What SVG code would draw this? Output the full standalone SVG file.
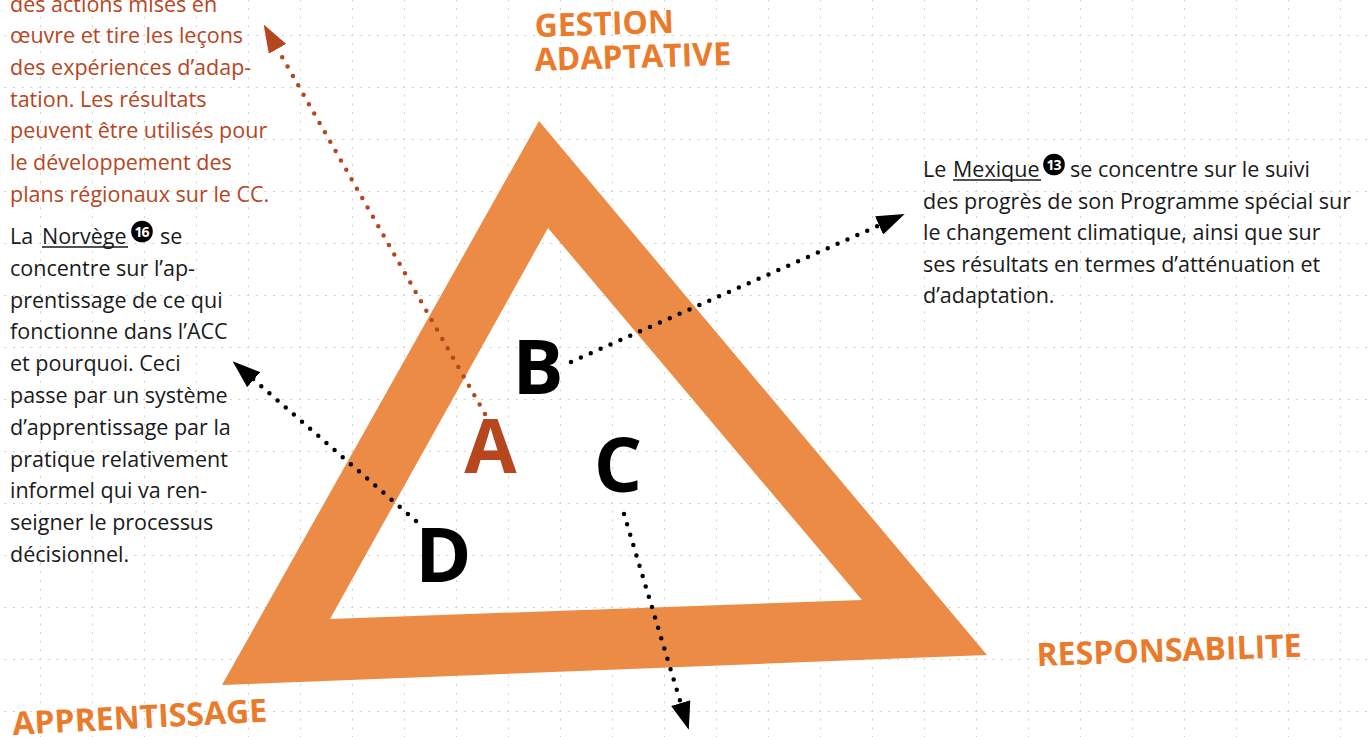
<svg xmlns="http://www.w3.org/2000/svg" width="1370" height="737" viewBox="0 0 1370 737">
<style>
.body{font-family:"Open Sans","Noto Sans",sans-serif;font-size:21.5px;fill:#1a1a1a}
.red{fill:#b6461e}
.title{font-family:"Open Sans","Noto Sans",sans-serif;font-weight:700;font-size:32px;fill:#e97b2b}
.big{font-family:"Open Sans","Noto Sans",sans-serif;font-weight:700;font-size:76px;text-anchor:middle}
.badge-num{font-family:"Open Sans","Noto Sans",sans-serif;font-weight:700;font-size:14px;fill:#fff;text-anchor:middle;letter-spacing:-1px}
.dots{fill:none;stroke-width:4.5;stroke-linecap:round;stroke-dasharray:0 10.8}
.ul{stroke:#1a1a1a;stroke-width:1.4}
</style>
<defs>
<pattern id="grid" patternUnits="userSpaceOnUse" x="40" y="35" width="52" height="52">
<g fill="#cfcfcf">
<rect x="-1" y="-1" width="2" height="2"/><rect x="7.67" y="-1" width="2" height="2"/><rect x="16.33" y="-1" width="2" height="2"/><rect x="25" y="-1" width="2" height="2"/><rect x="33.67" y="-1" width="2" height="2"/><rect x="42.33" y="-1" width="2" height="2"/><rect x="51" y="-1" width="2" height="2"/>
<rect x="-1" y="7.67" width="2" height="2"/><rect x="-1" y="16.33" width="2" height="2"/><rect x="-1" y="25" width="2" height="2"/><rect x="-1" y="33.67" width="2" height="2"/><rect x="-1" y="42.33" width="2" height="2"/><rect x="-1" y="51" width="2" height="2"/>
</g>
</pattern>
<marker id="ah-black" markerUnits="userSpaceOnUse" viewBox="0 0 28 20" markerWidth="28" markerHeight="20" refX="1" refY="10" orient="auto"><path d="M0,0 L28,10 L0,20 Z" fill="#000"/></marker>
<marker id="ah-red" markerUnits="userSpaceOnUse" viewBox="0 0 28 20" markerWidth="28" markerHeight="20" refX="1" refY="10" orient="auto"><path d="M0,0 L28,10 L0,20 Z" fill="#b6461e"/></marker>
</defs>
<rect width="1370" height="737" fill="#fff"/>
<rect width="1370" height="737" fill="url(#grid)"/>

<g id="triangle">
<path d="M539,121 L987,655 L222,685 Z M548,228 L330,619 L862,600 Z" fill="#ec8b46" fill-rule="evenodd"/>
</g>

<g id="connectors">
<line class="dots" x1="485" y1="414" x2="277" y2="48" stroke="#b6461e" marker-end="url(#ah-red)"/>
<line class="dots" x1="571" y1="362" x2="880" y2="225" stroke="#000" marker-end="url(#ah-black)"/>
<line class="dots" x1="416" y1="521" x2="253" y2="379" stroke="#000" marker-end="url(#ah-black)"/>
<line class="dots" x1="624" y1="514" x2="681" y2="704" stroke="#000" marker-end="url(#ah-black)"/>
</g>

<g id="node-A"><text class="big red" x="490.5" y="473">A</text></g>
<g id="node-B"><text class="big" x="538" y="394" fill="#000">B</text></g>
<g id="node-C"><text class="big" x="618" y="492" fill="#000">C</text></g>
<g id="node-D"><text class="big" x="443.5" y="582" fill="#000">D</text></g>

<g id="title-gestion">
<text class="title" x="535" y="37" transform="rotate(-1.8 535 37)">GESTION</text>
<text class="title" x="535" y="71" transform="rotate(-1.8 535 71)">ADAPTATIVE</text>
</g>
<g id="title-responsabilite"><text class="title" x="1037" y="666" transform="rotate(-2 1037 666)">RESPONSABILITE</text></g>
<g id="title-apprentissage"><text class="title" x="13" y="735" transform="rotate(-3 13 735)">APPRENTISSAGE</text></g>

<g id="text-A">
<text class="body red">
<tspan x="10" y="11.5">des actions mises en</tspan>
<tspan x="10" y="43.2">œuvre et tire les leçons</tspan>
<tspan x="10" y="74.9">des expériences d’adap-</tspan>
<tspan x="10" y="106.6">tation. Les résultats</tspan>
<tspan x="10" y="138.3">peuvent être utilisés pour</tspan>
<tspan x="10" y="170">le développement des</tspan>
<tspan x="10" y="201.7">plans régionaux sur le CC.</tspan>
</text>
</g>

<g id="text-D">
<text class="body"><tspan x="10" y="244">La</tspan><tspan x="42" y="244">Norvège</tspan><tspan x="160" y="244">se</tspan></text>
<line class="ul" x1="42" y1="247" x2="128" y2="247"/>
<circle cx="142" cy="231.5" r="10.8" fill="#000"/>
<text class="badge-num" x="141.5" y="236.5">16</text>
<text class="body">
<tspan x="10" y="275.8">concentre sur l’ap-</tspan>
<tspan x="10" y="307.6">prentissage de ce qui</tspan>
<tspan x="10" y="339.4">fonctionne dans l’ACC</tspan>
<tspan x="10" y="371.2">et pourquoi. Ceci</tspan>
<tspan x="10" y="403">passe par un système</tspan>
<tspan x="10" y="434.8">d’apprentissage par la</tspan>
<tspan x="10" y="466.6">pratique relativement</tspan>
<tspan x="10" y="498.4">informel qui va ren-</tspan>
<tspan x="10" y="530.2">seigner le processus</tspan>
<tspan x="10" y="562">décisionnel.</tspan>
</text>
</g>

<g id="text-B">
<text class="body"><tspan x="923" y="177">Le</tspan><tspan x="953" y="177">Mexique</tspan><tspan x="1070" y="177">se concentre sur le suivi</tspan></text>
<line class="ul" x1="953" y1="180" x2="1041" y2="180"/>
<circle cx="1054" cy="164.5" r="10.8" fill="#000"/>
<text class="badge-num" x="1053.5" y="169.5">13</text>
<text class="body">
<tspan x="923" y="208.6">des progrès de son Programme spécial sur</tspan>
<tspan x="923" y="240.2">le changement climatique, ainsi que sur</tspan>
<tspan x="923" y="271.8">ses résultats en termes d’atténuation et</tspan>
<tspan x="923" y="303.4">d’adaptation.</tspan>
</text>
</g>
</svg>
